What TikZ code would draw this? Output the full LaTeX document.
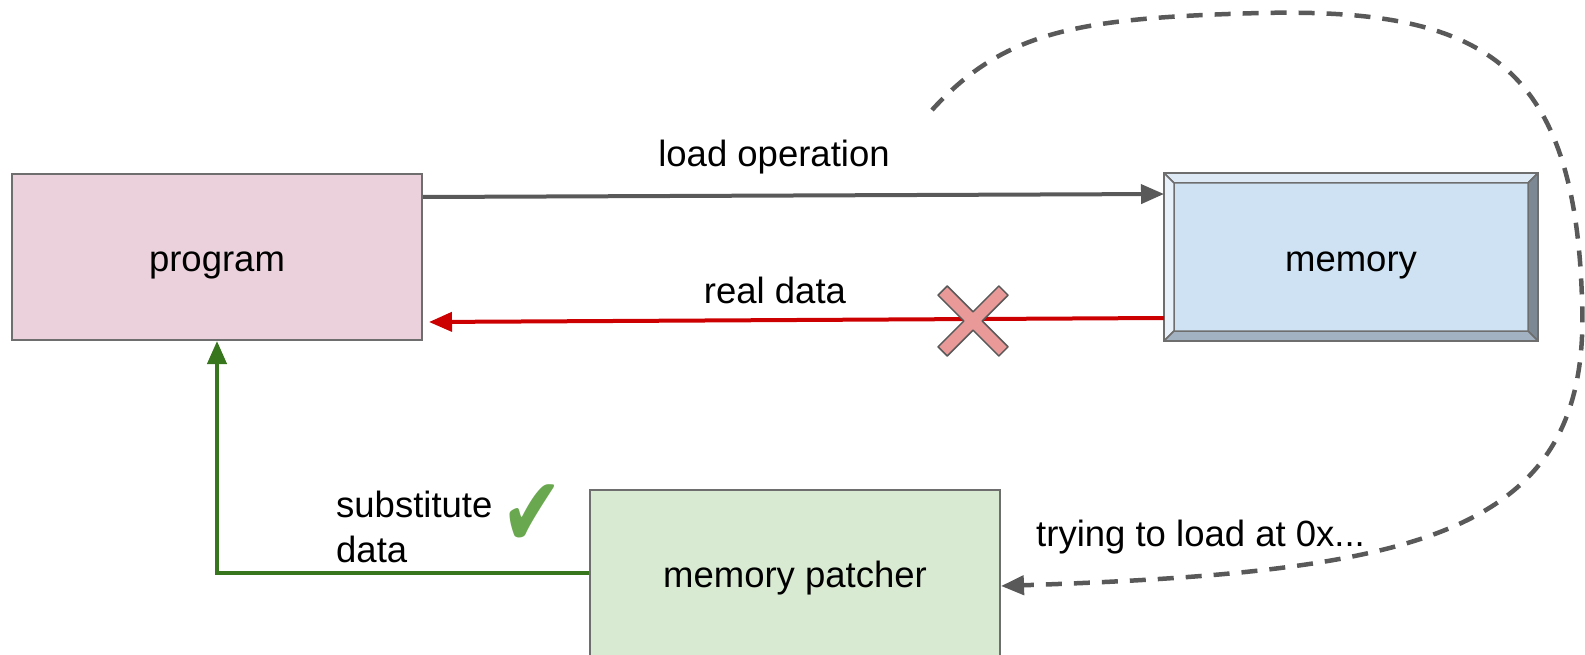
\documentclass[tikz,border=0pt]{standalone}
\usepackage{fontspec}
\setmainfont{Liberation Sans}
\newfontfamily\symfont{DejaVu Sans}
\usetikzlibrary{arrows.meta}
\definecolor{boxline}{HTML}{6E6E6E}
\definecolor{progfill}{HTML}{EAD1DC}
\definecolor{memfill}{HTML}{CFE2F3}
\definecolor{patchfill}{HTML}{D9EAD3}
\definecolor{darkg}{HTML}{595959}
\definecolor{redc}{HTML}{CC0000}
\definecolor{greenc}{HTML}{38761D}
\definecolor{checkc}{HTML}{6AA84F}
\definecolor{xfill}{HTML}{EA9999}
\definecolor{bevtop}{HTML}{DDE9F5}
\definecolor{bevleft}{HTML}{E8F0F9}
\definecolor{bevright}{HTML}{7C8894}
\definecolor{bevbottom}{HTML}{A3B2C2}
\begin{document}
\begin{tikzpicture}[x=1pt,y=-1pt,
  font=\fontsize{36.5}{45}\selectfont,
  box/.style={draw=boxline, line width=2pt, minimum width=410pt, minimum height=166pt,
    inner sep=0pt, text height=28pt, text depth=0pt},
  conn/.style={line width=4pt, -{Triangle[length=23pt,width=19pt]}},
  lbl/.style={inner sep=0pt},
  bevel/.style={draw=boxline, line width=1.5pt, line join=round}]
\useasboundingbox (0,0) rectangle (1585,655);

% boxes
\node[box, fill=progfill] (program) at (217,257) {program};
\node[box, fill=memfill, minimum width=372pt] (memory) at (1351,257) {memory};
\node[box, fill=patchfill] (patcher) at (795,573) {memory patcher};

% bevels of memory
\filldraw[bevel, fill=bevtop] (memory.north west) -- (memory.north east)
  -- ([xshift=-10pt,yshift=-10pt]memory.north east) -- ([xshift=10pt,yshift=-10pt]memory.north west) -- cycle;
\filldraw[bevel, fill=bevleft] (memory.north west) -- (memory.south west)
  -- ([xshift=10pt,yshift=10pt]memory.south west) -- ([xshift=10pt,yshift=-10pt]memory.north west) -- cycle;
\filldraw[bevel, fill=bevright] (memory.north east) -- (memory.south east)
  -- ([xshift=-10pt,yshift=10pt]memory.south east) -- ([xshift=-10pt,yshift=-10pt]memory.north east) -- cycle;
\filldraw[bevel, fill=bevbottom] (memory.south west) -- (memory.south east)
  -- ([xshift=-10pt,yshift=10pt]memory.south east) -- ([xshift=10pt,yshift=10pt]memory.south west) -- cycle;
\draw[draw=boxline, line width=2pt] (memory.north west) rectangle (memory.south east);

% load operation
\draw[conn, draw=darkg] ([yshift=-24pt]program.north east) -- ([yshift=-21pt]memory.north west);
\node[lbl, anchor=base] (loadlbl) at (774,167) {load operation};

% real data
\draw[conn, draw=redc] ([yshift=23pt]memory.south west) -- ([xshift=6pt,yshift=19pt]program.south east);
\node[lbl, anchor=base] (reallbl) at (775,303) {real data};

% cross
\begin{scope}[shift={(973,321)}, rotate=45]
\filldraw[fill=xfill, draw=darkg, line width=1.5pt, line join=round]
  (6.5,6.5) -- (43,6.5) -- (43,-6.5) -- (6.5,-6.5) -- (6.5,-43) -- (-6.5,-43) -- (-6.5,-6.5)
  -- (-43,-6.5) -- (-43,6.5) -- (-6.5,6.5) -- (-6.5,43) -- (6.5,43) -- cycle;
\end{scope}

% substitute data
\draw[conn, draw=greenc] (patcher.west) -| (program.south);
\node[lbl, anchor=base west, align=left] (sublbl) at (336,562) {substitute\\data};
\node[inner sep=0pt, text=checkc, xscale=0.75] (check) at (532,516) {\fontsize{98}{98}\selectfont\symfont ✔};

% trying to load
\coordinate (dstart) at (932,110);
\draw[conn, line width=4.5pt, draw=darkg, dash pattern=on 16pt off 12pt] (dstart)
  .. controls (1005,30) and (1080,18) .. (1260,13)
  .. controls (1480,8) and (1575,60) .. (1582,300)
  .. controls (1592,535) and (1420,572) .. ([yshift=-13pt]patcher.east);
\node[lbl, anchor=base west] (trylbl) at (1036,546) {trying to load at 0x...};
\end{tikzpicture}
\end{document}
